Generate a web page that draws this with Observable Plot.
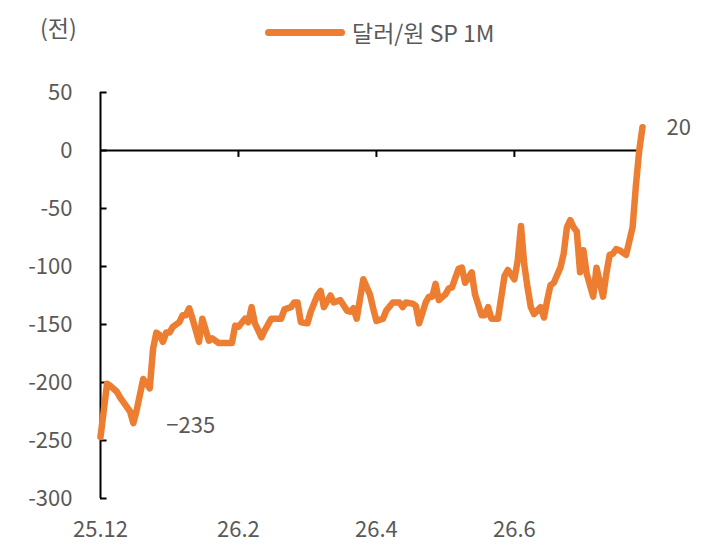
<!DOCTYPE html>
<html>
<head>
<meta charset="utf-8">
<script src="https://cdn.jsdelivr.net/npm/d3@7"></script>
<script src="https://cdn.jsdelivr.net/npm/@observablehq/plot@0.6"></script>
<style>
  html, body { margin: 0; padding: 0; background: #fff; }
  #wrap { position: relative; width: 709px; height: 557px; font-family: "Noto Sans CJK KR", "Noto Sans", sans-serif; color: #595959; }
  #header { position: relative; width: 709px; height: 75px; }
  #unit { position: absolute; left: 40px; top: 27px; transform: translateY(-50%); font-size: 23px; }
  #legend { position: absolute; left: 265px; top: 32px; transform: translateY(-50%); display: flex; align-items: center; font-size: 23px; }
  #legend .swatch { width: 80px; height: 7px; border-radius: 3.5px; background: #ED7D31; margin-right: 7px; }
  #chart svg { display: block; }
</style>
</head>
<body>
<div id="wrap">
  <div id="header">
    <div id="unit"></div>
    <div id="legend"><div class="swatch"></div><span id="legendLabel"></span></div>
  </div>
  <div id="chart"></div>
</div>
<script>
// ---- data ----
const seriesName = "달러/원 SP 1M";
const unitLabel = "(전)";
// trading-day index from the first observation
const days = [0,2,3,5,6,8,9,10,11,13,14,15,16,17,18,19,20,21,22,24,25,26,27,28,30,31,33,34,36,37,40,41,42,44,45,46,47,49,50,52,55,56,58,59,60,61,63,64,66,67,68,70,71,73,75,76,77,78,80,82,83,84,86,87,89,91,92,93,95,96,97,99,100,101,102,103,105,106,107,109,110,111,113,114,116,117,118,119,121,123,124,126,127,128,129,130,131,132,134,135,136,137,138,140,141,142,143,144,145,146,147,148,149,150,151,153,154,155,156,157,158,160,161,162,163,164,165];
const values = [-247,-201,-203,-208,-213,-221,-225,-235,-224,-197,-201,-205,-171,-157,-159,-165,-157,-157,-152,-148,-142,-142,-136,-145,-165,-145,-164,-162,-166,-166,-166,-151,-152,-145,-148,-135,-149,-161,-155,-145,-145,-137,-135,-131,-131,-148,-149,-139,-125,-121,-135,-125,-131,-129,-138,-139,-136,-145,-111,-124,-136,-147,-145,-138,-131,-131,-135,-131,-132,-134,-149,-131,-126,-126,-115,-129,-124,-119,-118,-102,-101,-114,-105,-124,-142,-142,-135,-145,-145,-108,-103,-111,-95,-65,-98,-118,-135,-141,-135,-144,-129,-116,-114,-101,-89,-66,-60,-66,-70,-105,-86,-106,-116,-126,-101,-126,-106,-90,-89,-85,-86,-90,-78,-66,-30,0,20];
const xTickDays = [0, 42, 84, 126];
const xTickLabels = ["25.12", "26.2", "26.4", "26.6"];
const yTicks = [50, 0, -50, -100, -150, -200, -250, -300];
const annotDays = [10, 165];

// ---- build ----
document.getElementById("legendLabel").textContent = seriesName;
document.getElementById("unit").textContent = unitLabel;

const data = days.map((d, i) => ({day: d, value: values[i]}));
const annot = annotDays.map(d => data.find(p => p.day === d));
const fmt = v => (v < 0 ? "\u2212" + Math.abs(v) : String(v));
const fmtTick = v => (v < 0 ? "-" + Math.abs(v) : String(v));
const textColor = "#595959";
const lineColor = "#ED7D31";
const lastDay = days[days.length - 1];

const chart = Plot.plot({
  width: 709,
  height: 482,
  marginLeft: 100,
  marginRight: 67,
  marginTop: 17,
  marginBottom: 59,
  x: {domain: [0, lastDay], axis: null},
  y: {domain: [-300, 50], axis: null},
  style: {fontFamily: '"Noto Sans CJK KR", "Noto Sans", sans-serif', fontSize: "22px", background: "#fff", overflow: "visible"},
  marks: [
    Plot.ruleY([0], {x1: 0, x2: lastDay, stroke: "#000", strokeWidth: 2}),
    Plot.ruleX(xTickDays.slice(1), {x: d => d, y1: 0, y2: -6, stroke: "#000", strokeWidth: 2}),
    Plot.ruleX([0], {y1: -300, y2: 50, stroke: "#000", strokeWidth: 2}),
    Plot.ruleY(yTicks, {y: d => d, x1: 0, x2: 2, stroke: "#000", strokeWidth: 2}),
    Plot.text(yTicks, {y: d => d, text: d => fmtTick(d), frameAnchor: "left", textAnchor: "end", dx: -28, fill: textColor}),
    Plot.text(xTickDays, {x: d => d, text: (d, i) => xTickLabels[i], frameAnchor: "bottom", dy: 38, fill: textColor}),
    Plot.line(data, {x: "day", y: "value", stroke: lineColor, strokeWidth: 6.5, strokeLinejoin: "round", strokeLinecap: "round"}),
    Plot.text(annot, {x: "day", y: "value", text: d => fmt(d.value), textAnchor: "start", dx: 33, dy: 3, fill: textColor, filter: (d, i) => i === 0}),
    Plot.text(annot, {x: "day", y: "value", text: d => fmt(d.value), textAnchor: "start", dx: 24, dy: 1, fill: textColor, filter: (d, i) => i === 1})
  ]
});
document.getElementById("chart").appendChild(chart);
</script>
</body>
</html>
